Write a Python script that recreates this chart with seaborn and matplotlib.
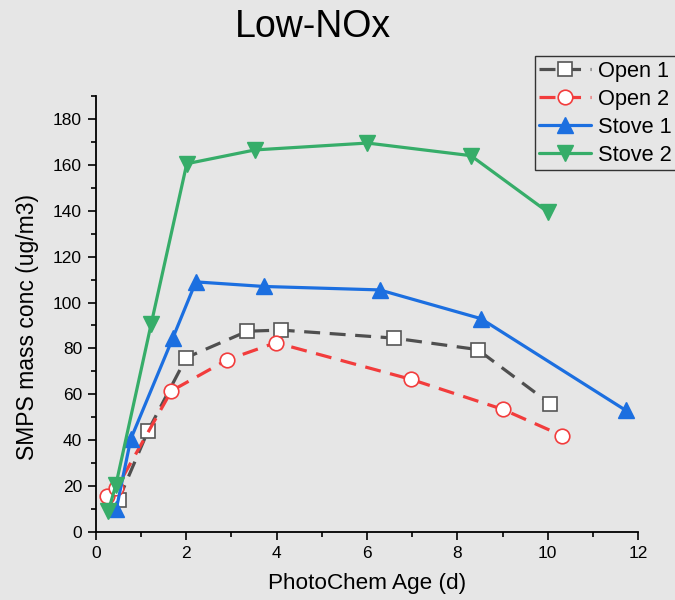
import matplotlib
matplotlib.use("Agg")
import matplotlib.pyplot as plt
from matplotlib.ticker import MultipleLocator
import seaborn as sns
import pandas as pd

# Photochemical age (days) and SMPS mass concentration (ug/m3) per burn
open1_age = [0.5, 1.15, 2.0, 3.35, 4.1, 6.6, 8.45, 10.05]
open1_conc = [14, 44, 76, 87.5, 88, 84.5, 79.5, 56]

open2_age = [0.25, 0.45, 1.67, 2.9, 3.98, 6.98, 9.0, 10.32]
open2_conc = [15.5, 19, 61.5, 75, 82.5, 66.5, 53.5, 42]

stove1_age = [0.45, 0.77, 1.7, 2.21, 3.72, 6.28, 8.52, 11.73]
stove1_conc = [10, 40.5, 84.5, 109, 107, 105.5, 93, 53]

stove2_age = [0.27, 0.44, 1.22, 2.01, 3.52, 6.01, 8.3, 10.0]
stove2_conc = [9, 20.5, 90.5, 160.5, 166.5, 169.5, 164, 139.5]

series_names = ["Open 1", "Open 2", "Stove 1", "Stove 2"]

bg = "#e6e6e6"
sns.set_theme(style="ticks", rc={"figure.facecolor": bg, "axes.facecolor": bg,
                                 "savefig.facecolor": bg,
                                 "text.color": "black",
                                 "axes.labelcolor": "black",
                                 "xtick.color": "black",
                                 "ytick.color": "black"})
plt.rcParams["font.family"] = ["Liberation Sans", "DejaVu Sans"]

fig = plt.figure(figsize=(6.75, 6.0), dpi=100)
ax = fig.add_axes([0.1422, 0.1133, 0.8030, 0.7267])

styles = {
    "Open 1": dict(color="#4f4f4f", marker="s", mfc="white", mec="#555555",
                   ms=10, mew=1.2, dashes=(5, 3)),
    "Open 2": dict(color="#f23c3c", marker="o", mfc="white", mec="#f23c3c",
                   ms=10.5, mew=1.2, dashes=(5, 3)),
    "Stove 1": dict(color="#1c6fe0", marker="^", mfc="#1c6fe0", mec="#1c6fe0",
                    ms=11, mew=1.0, dashes=None),
    "Stove 2": dict(color="#36ad69", marker="v", mfc="#36ad69", mec="#36ad69",
                    ms=11, mew=1.0, dashes=None),
}

frames = {
    "Open 1": pd.DataFrame({"age": open1_age, "conc": open1_conc}),
    "Open 2": pd.DataFrame({"age": open2_age, "conc": open2_conc}),
    "Stove 1": pd.DataFrame({"age": stove1_age, "conc": stove1_conc}),
    "Stove 2": pd.DataFrame({"age": stove2_age, "conc": stove2_conc}),
}

handles = []
for name in series_names:
    st = styles[name]
    n_before = len(ax.lines)
    sns.lineplot(data=frames[name], x="age", y="conc", ax=ax, sort=False,
                 color=st["color"], lw=2.3, marker=st["marker"],
                 markersize=st["ms"], markerfacecolor=st["mfc"],
                 markeredgecolor=st["mec"], markeredgewidth=st["mew"],
                 clip_on=False, label=name, legend=False)
    line = ax.lines[n_before]
    if st["dashes"] is not None:
        line.set_dashes(st["dashes"])
    handles.append(line)

ax.set_xlim(0, 12)
ax.set_ylim(0, 190)
ax.xaxis.set_major_locator(MultipleLocator(2))
ax.xaxis.set_minor_locator(MultipleLocator(1))
ax.yaxis.set_minor_locator(MultipleLocator(10))
ax.set_yticks(range(0, 181, 20))
ax.tick_params(which="major", direction="out", length=6, width=1.2,
               labelsize=12.5, colors="black", pad=4)
ax.tick_params(which="minor", direction="out", length=3.5, width=1.2)

sns.despine(ax=ax)
for side in ("left", "bottom"):
    ax.spines[side].set_linewidth(1.3)
    ax.spines[side].set_color("black")

ax.set_xlabel("PhotoChem Age (d)", fontsize=16.2, labelpad=9)
ax.set_ylabel("SMPS mass conc (ug/m3)", fontsize=16.5)
ax.yaxis.set_label_coords(-0.105, 0.47)

fig.text(0.464, 0.955, "Low-NOx", ha="center", va="center", fontsize=27)

leg = fig.legend(handles=handles, labels=series_names, loc="upper left",
                 bbox_to_anchor=(0.792, 0.906), fontsize=15.7, frameon=True,
                 fancybox=False, framealpha=1, edgecolor="#333333",
                 facecolor=bg, handlelength=2.4, handletextpad=0.3,
                 labelspacing=0.32, borderpad=0.2, borderaxespad=0)
leg.get_frame().set_linewidth(1.0)

fig.savefig("out.png", dpi=100, facecolor=bg)
